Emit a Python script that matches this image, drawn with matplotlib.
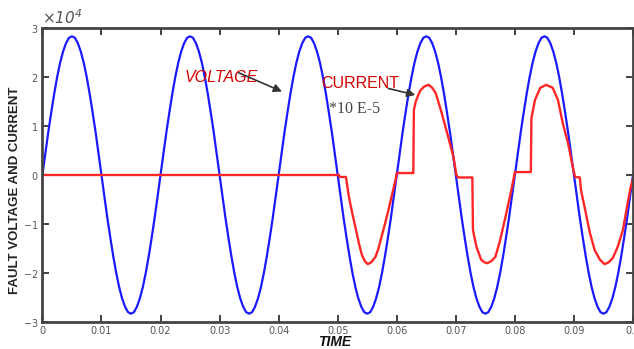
import numpy as np
import matplotlib
matplotlib.use('Agg')
import matplotlib.pyplot as plt
from matplotlib.ticker import ScalarFormatter

plt.rcParams['axes.unicode_minus'] = False

# time axis (s) and voltage read every 0.5 ms, values in units of 1e4
time_v = np.linspace(0, 0.1, 201)
voltage = [
    0, 0.44, 0.88, 1.28, 1.66, 2.00, 2.29, 2.52, 2.69, 2.80, 2.83, 2.80, 2.69, 2.52, 2.29, 2.00, 1.66, 1.28, 0.88, 0.44,
    0, -0.44, -0.88, -1.28, -1.66, -2.00, -2.29, -2.52, -2.69, -2.80, -2.83, -2.80, -2.69, -2.52, -2.29, -2.00, -1.66, -1.28, -0.88, -0.44,
    0, 0.44, 0.88, 1.28, 1.66, 2.00, 2.29, 2.52, 2.69, 2.80, 2.83, 2.80, 2.69, 2.52, 2.29, 2.00, 1.66, 1.28, 0.88, 0.44,
    0, -0.44, -0.88, -1.28, -1.66, -2.00, -2.29, -2.52, -2.69, -2.80, -2.83, -2.80, -2.69, -2.52, -2.29, -2.00, -1.66, -1.28, -0.88, -0.44,
    0, 0.44, 0.88, 1.28, 1.66, 2.00, 2.29, 2.52, 2.69, 2.80, 2.83, 2.80, 2.69, 2.52, 2.29, 2.00, 1.66, 1.28, 0.88, 0.44,
    0, -0.44, -0.88, -1.28, -1.66, -2.00, -2.29, -2.52, -2.69, -2.80, -2.83, -2.80, -2.69, -2.52, -2.29, -2.00, -1.66, -1.28, -0.88, -0.44,
    0, 0.44, 0.88, 1.28, 1.66, 2.00, 2.29, 2.52, 2.69, 2.80, 2.83, 2.80, 2.69, 2.52, 2.29, 2.00, 1.66, 1.28, 0.88, 0.44,
    0, -0.44, -0.88, -1.28, -1.66, -2.00, -2.29, -2.52, -2.69, -2.80, -2.83, -2.80, -2.69, -2.52, -2.29, -2.00, -1.66, -1.28, -0.88, -0.44,
    0, 0.44, 0.88, 1.28, 1.66, 2.00, 2.29, 2.52, 2.69, 2.80, 2.83, 2.80, 2.69, 2.52, 2.29, 2.00, 1.66, 1.28, 0.88, 0.44,
    0, -0.44, -0.88, -1.28, -1.66, -2.00, -2.29, -2.52, -2.69, -2.80, -2.83, -2.80, -2.69, -2.52, -2.29, -2.00, -1.66, -1.28, -0.88, -0.44,
    0,
]

# fault current (scaled)
time_i = [0, 0.0502, 0.0503, 0.0514, 0.0519, 0.0525, 0.0531, 0.0536, 0.0541, 0.0546, 0.0551, 0.0557, 0.0564,
          0.0569, 0.0574, 0.0580, 0.0586, 0.0592, 0.0598, 0.0600, 0.0628, 0.0629, 0.0632, 0.0636, 0.0640,
          0.0647, 0.0654, 0.0660, 0.0666, 0.0676, 0.0687, 0.0696, 0.0701, 0.0704, 0.0728, 0.0729, 0.0735,
          0.0743, 0.0748, 0.0753, 0.0760, 0.0767, 0.0775, 0.0784, 0.0794, 0.0800, 0.0827, 0.0828, 0.0834,
          0.0843, 0.0853, 0.0864, 0.0873, 0.0881, 0.0890, 0.0898, 0.0902, 0.0910, 0.0912, 0.0919, 0.0927,
          0.0935, 0.0944, 0.0952, 0.0959, 0.0966, 0.0974, 0.0983, 0.0991, 0.0996, 0.1000]
current = [0, 0, -0.04, -0.04, -0.45, -0.80, -1.12, -1.40, -1.63, -1.76, -1.82, -1.78, -1.67,
           -1.50, -1.27, -1.00, -0.71, -0.40, -0.10, 0.04, 0.04, 1.33, 1.49, 1.62, 1.73,
           1.81, 1.84, 1.78, 1.67, 1.27, 0.78, 0.37, 0.0, -0.05, -0.05, -1.12, -1.47,
           -1.73, -1.78, -1.80, -1.76, -1.67, -1.33, -0.86, -0.31, 0.06, 0.06, 1.16, 1.53,
           1.78, 1.84, 1.78, 1.53, 1.06, 0.65, 0.16, -0.04, -0.05, -0.31, -0.71, -1.18,
           -1.53, -1.73, -1.82, -1.78, -1.69, -1.47, -1.12, -0.57, -0.25, -0.08]

xticks = [0, 0.01, 0.02, 0.03, 0.04, 0.05, 0.06, 0.07, 0.08, 0.09, 0.1]
xtick_labels = ['0', '0.01', '0.02', '0.03', '0.04', '0.05', '0.06', '0.07', '0.08', '0.09', '0.1']
yticks = [-3, -2, -1, 0, 1, 2, 3]

fig = plt.figure(figsize=(6.34, 3.49), dpi=100)
ax = fig.add_axes([42.4 / 634, 27 / 349, 590.6 / 634, 294 / 349])

ax.plot(time_v, np.array(voltage) * 1e4, color='#1a1aff', lw=1.6)
ax.plot(time_i, np.array(current) * 1e4, color='#ff2626', lw=1.7)

ax.set_xlim(0, 0.1)
ax.set_ylim(-3e4, 3e4)
ax.set_xticks(xticks)
ax.set_xticklabels(xtick_labels)
ax.set_yticks(np.array(yticks) * 1e4)

fmt = ScalarFormatter(useMathText=True)
fmt.set_powerlimits((0, 0))
ax.yaxis.set_major_formatter(fmt)
off = ax.yaxis.get_offset_text()
off.set_fontsize(11)
off.set_style('italic')
off.set_color('#333333')

ax.tick_params(direction='in', top=True, right=True, length=5, width=1.3,
               color='#333333', labelsize=7, labelcolor='#555555', pad=3)
for s in ax.spines.values():
    s.set_linewidth(2)
    s.set_color('#444444')

ax.set_ylabel('FAULT VOLTAGE AND CURRENT', fontsize=9.5, fontweight='bold',
              family='Liberation Sans', color='#222222')
ax.yaxis.set_label_coords(-0.036, 0.449)
ax.set_xlabel('TIME', fontsize=10, fontweight='bold', style='italic',
              family='Liberation Sans', color='#111111')
ax.xaxis.set_label_coords(0.494, -0.043)

ax.text(0.0303, 1.99e4, 'VOLTAGE', color='#d40000', fontsize=11.5, style='italic',
        family='Liberation Sans', ha='center', va='center')
ax.text(0.0538, 1.87e4, 'CURRENT', color='#d40000', fontsize=11.5,
        family='Liberation Sans', ha='center', va='center')
ax.text(0.0529, 1.34e4, '*10 E-5', color='#444444', fontsize=11.5,
        family='Liberation Serif', ha='center', va='center')

ax.annotate('', xy=(0.0410, 1.68e4), xytext=(0.0328, 2.11e4),
            arrowprops=dict(arrowstyle='-|>', color='#333333', lw=1.2, mutation_scale=12))
ax.annotate('', xy=(0.0636, 1.62e4), xytext=(0.0581, 1.78e4),
            arrowprops=dict(arrowstyle='-|>', color='#333333', lw=1.2, mutation_scale=12))

fig.savefig('out.png', dpi=100)
